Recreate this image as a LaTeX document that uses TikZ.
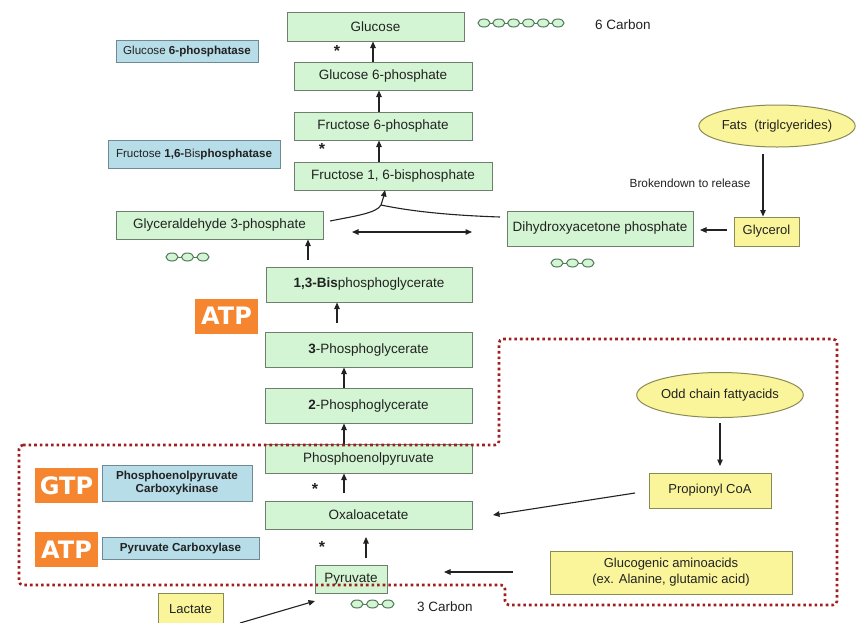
\documentclass[tikz,border=0pt]{standalone}
\usepackage{fontspec}
\setmainfont{Liberation Sans}
\newfontfamily\atpfont{DejaVu Sans}
\usetikzlibrary{arrows.meta,shapes.geometric}
\definecolor{gfill}{HTML}{D3F5D3}
\definecolor{gbord}{HTML}{6E7F6E}
\definecolor{bfill}{HTML}{B7DDE8}
\definecolor{bbord}{HTML}{6F8A92}
\definecolor{yfill}{HTML}{FAF59A}
\definecolor{ybord}{HTML}{8A8A55}
\definecolor{ofill}{HTML}{F5852F}
\definecolor{dred}{HTML}{A01E1E}
\definecolor{txt}{HTML}{222222}
\definecolor{cring}{HTML}{4E7A5A}
\tikzset{
  gbox/.style={draw=gbord, line width=1pt, fill=gfill, inner sep=0pt, text=txt, font=\fontsize{13.5}{16}\selectfont},
  bbox/.style={draw=bbord, line width=1pt, fill=bfill, inner sep=0pt, text=txt, font=\fontsize{11.6}{13.5}\selectfont, align=center},
  ybox/.style={draw=ybord, line width=1pt, fill=yfill, inner sep=0pt, text=txt, font=\fontsize{13}{16}\selectfont, align=center},
  yell/.style={ellipse, draw=ybord, line width=1pt, fill=yfill, inner sep=0pt, text=txt, font=\fontsize{13}{16}\selectfont},
  obox/.style={fill=ofill, inner sep=0pt, text=white, font=\atpfont\bfseries\fontsize{24}{26}\selectfont, minimum width=63, minimum height=35},
  starlbl/.style={text=txt, font=\bfseries\fontsize{16}{16}\selectfont, inner sep=0pt},
  plain/.style={text=txt, inner sep=0pt},
  arr/.style={draw=txt, line width=1.1pt, -{Triangle[length=6.5pt,width=5.5pt]}},
  darr/.style={draw=txt, line width=1.1pt, {Triangle[length=6.5pt,width=5.5pt]}-{Triangle[length=6.5pt,width=5.5pt]}},
  ln/.style={draw=txt, line width=1.1pt},
  ring/.style={draw=cring, line width=1pt, fill=gfill},
  border/.style={draw=dred, line width=2.6pt, dash pattern=on 2.6pt off 3pt, rounded corners=4pt}
}
\begin{document}
\begin{tikzpicture}[x=1pt,y=-1pt]
\useasboundingbox[fill=white] (0,0) rectangle (861,622);

% green boxes
\node[gbox, minimum width=177, minimum height=29] (glc) at (375.5,26.5) {Glucose};
\node[gbox, minimum width=178, minimum height=28] (g6p) at (383,76) {Glucose 6-phosphate};
\node[gbox, minimum width=178, minimum height=28] (f6p) at (383,126) {Fructose 6-phosphate};
\node[gbox, minimum width=198, minimum height=28] (f16bp) at (393,176) {Fructose 1, 6-bisphosphate};
\node[gbox, minimum width=207, minimum height=28] (g3p) at (219.5,225) {Glyceraldehyde 3-phosphate};
\node[gbox, minimum width=186, minimum height=35] (dhap) at (600,228.5) {Dihydroxyacetone phosphate};
\node[gbox, minimum width=206, minimum height=35] (bpg) at (369,284.5) {\textbf{1,3-Bis}phosphoglycerate};
\node[gbox, minimum width=207, minimum height=35] (pg3) at (368.5,349.5) {\textbf{3}-Phosphoglycerate};
\node[gbox, minimum width=207, minimum height=35] (pg2) at (368.5,405.5) {\textbf{2}-Phosphoglycerate};
\node[gbox, minimum width=207, minimum height=29] (pep) at (368.5,458.5) {Phosphoenolpyruvate};
\node[gbox, minimum width=207, minimum height=28] (oaa) at (368.5,515) {Oxaloacetate};
\node[gbox, minimum width=72, minimum height=28] (pyr) at (351,579) {Pyruvate};

% yellow
\node[yell, minimum width=155, minimum height=42] (fats) at (777,126) {Fats~ (triglcyerides)};
\node[ybox, minimum width=65, minimum height=29] (glyc) at (766.5,231.5) {Glycerol};
\node[yell, minimum width=143, minimum height=45] (odd) at (720,395) {Odd chain fattyacids};
\node[ybox, minimum width=122, minimum height=35] (prop) at (710,490.5) {Propionyl CoA};
\node[ybox, minimum width=242, minimum height=43] (glucog) at (671,572.5) {Glucogenic aminoacids\\(ex. Alanine, glutamic acid)};
\node[ybox, minimum width=65, minimum height=32] (lact) at (190.5,609) {Lactate};

% blue enzyme boxes
\node[bbox, minimum width=142, minimum height=22] (g6pase) at (187,51) {Glucose \textbf{6-phosphatase}};
\node[bbox, minimum width=172, minimum height=28] (f16bpase) at (194,154) {Fructose \textbf{1,6-}Bis\textbf{phosphatase}};
\node[bbox, minimum width=150, minimum height=36, font=\bfseries\fontsize{11.6}{13.5}\selectfont] (pepck) at (177,483) {Phosphoenolpyruvate\\Carboxykinase};
\node[bbox, minimum width=157, minimum height=22, font=\bfseries\fontsize{11.6}{13.5}\selectfont] (pc) at (180.5,548) {Pyruvate Carboxylase};

% orange
\node[obox] (atp1) at (226.5,316) {ATP};
\node[obox] (gtp) at (66.5,485.5) {GTP};
\node[obox] (atp2) at (66.5,549.5) {ATP};

% stars
\node[starlbl] (s1) at (337,51) {*};
\node[starlbl] (s2) at (322,149) {*};
\node[starlbl] (s3) at (315,489) {*};
\node[starlbl] (s4) at (322,547) {*};

% labels
\node[plain, font=\fontsize{13.5}{16}\selectfont] (c6) at (623,25) {6 Carbon};
\node[plain, font=\fontsize{13.5}{16}\selectfont] (c3) at (445,607) {3 Carbon};
\node[plain, font=\fontsize{11.8}{13}\selectfont] (brk) at (690,183) {Brokendown to release};

% carbon chains
\foreach \x in {0,...,4} { \draw[ring] (490+\x*14.8,23) -- (493+\x*14.8,23); }
\foreach \x in {0,...,5} { \draw[ring] (484+\x*14.8,23) ellipse (6 and 4); }
\foreach \cx/\cy in {172/257, 557/263, 357/604} {
  \foreach \i in {0,1} { \draw[ring] (\cx+6+\i*15.5,\cy) -- (\cx+9.5+\i*15.5,\cy); }
  \foreach \i in {0,1,2} { \draw[ring] (\cx+\i*15.5,\cy) ellipse (6 and 4); }
}

% main chain arrows
\coordinate (t1) at (373,62);
\draw[arr] (t1) -- (t1 |- glc.south);
\coordinate (t2) at (379,112);
\draw[arr] (t2) -- (t2 |- g6p.south);
\coordinate (t3) at (379,162);
\draw[arr] (t3) -- (t3 |- f6p.south);

% Y junction
\coordinate (yj) at (381,205);
\coordinate (ya) at (330,221);
\coordinate (yb) at (500,217);
\coordinate (yh) at (385,190);
\draw[ln] (ya) .. controls (355,216) and (377,213) .. (yj);
\draw[arr] (yj) .. controls (383,200) .. (yh);
\draw[ln] (yj) .. controls (405,210) and (440,215) .. (yb);
\coordinate (da) at (352,232);
\coordinate (db) at (472,232);
\draw[darr] (da) -- (db);

\coordinate (t4) at (308,260);
\draw[arr] (t4) -- (t4 |- g3p.south);
\coordinate (t5) at (337,323);
\draw[arr] (t5) -- (t5 |- bpg.south);
\coordinate (t6) at (344,388);
\draw[arr] (t6) -- (t6 |- pg3.south);
\coordinate (t7) at (344,445);
\draw[arr] (t7) -- (t7 |- pg2.south);
\coordinate (t8) at (344,493);
\draw[arr] (t8) -- (t8 |- pep.south);
\coordinate (t9) at (366,558);
\coordinate (h9) at (366,537);
\draw[arr] (t9) -- (h9);

% side arrows
\coordinate (gt) at (727,230);
\coordinate (gh) at (700,230);
\draw[arr] (gt) -- (gh);
\coordinate (ft) at (763,154);
\draw[arr] (ft) -- (ft |- glyc.north);
\coordinate (ot) at (720,423);
\coordinate (oh) at (720,466);
\draw[arr] (ot) -- (oh);
\coordinate (pt) at (635,493);
\coordinate (ph) at (493,515);
\draw[arr] (pt) -- (ph);
\coordinate (at) at (513,572);
\coordinate (ah) at (444,572);
\draw[arr] (at) -- (ah);
\coordinate (lt) at (240,623);
\coordinate (lh) at (315,601);
\draw[arr] (lt) -- (lh);

% dotted border
\draw[border] (19,445) -- (499,445) -- (499,339) -- (837,339) -- (837,605) -- (505,605) -- (505,585) -- (19,585) -- cycle;
\end{tikzpicture}
\end{document}
